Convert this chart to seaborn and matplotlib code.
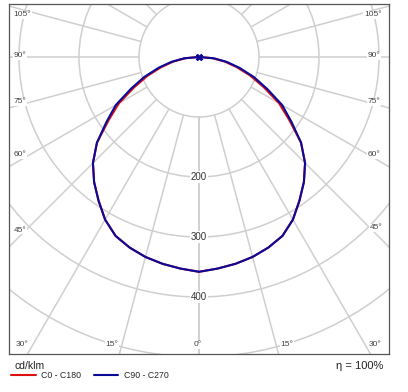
import matplotlib
matplotlib.use("Agg")
import matplotlib.pyplot as plt
from matplotlib.patches import Circle
import numpy as np
import pandas as pd
import seaborn as sns

# luminous intensity distribution, cd/klm, gamma measured from nadir
gamma = [0, 5, 10, 15, 20, 25, 30, 35, 40, 45, 50, 55, 60, 65, 70, 75, 80, 85, 90]
c0_c180 = [358, 354, 350, 345, 338, 329, 313, 292, 272, 250, 222, 184, 154, 119, 91, 65, 43, 22, 0]
c90_c270 = [358, 354, 350, 345, 338, 329, 313, 292, 272, 250, 222, 188, 160, 125, 97, 70, 47, 25, 0]
planes = {"C0 - C180": c0_c180, "C90 - C270": c90_c270}
colors = {"C0 - C180": "#e01010", "C90 - C270": "#0a0a9a"}

grid_radii = [100, 200, 300, 400, 500]
radius_labels = [200, 300, 400]
angle_steps = list(range(0, 181, 15))

# pixel layout of the original picture
W, H = 408, 392
CX, CY = 199, 57          # pole position in pixels
SCALE = 0.6               # px per cd/klm
BOX = (9, 4, 389, 354)    # left, top, right, bottom in px

angle_label_px = {
    "left": [(0, 198, 345), (15, 112, 345), (30, 22, 345), (45, 20, 230),
             (60, 20, 155), (75, 20, 102), (90, 20, 56), (105, 22, 15)],
    "right": [(15, 287, 345), (30, 375, 345), (45, 376, 228),
              (60, 374, 155), (75, 374, 102), (90, 374, 56), (105, 373, 15)],
}


def to_data(px, py):
    return (px - CX) / SCALE, (CY - py) / SCALE


rows = []
for name, vals in planes.items():
    g = np.radians(gamma)
    v = np.asarray(vals, dtype=float)
    # left half drawn from 90 deg down to nadir, then right half back up
    xs = np.concatenate([-(v * np.sin(g))[::-1], (v * np.sin(g))[1:]])
    ys = np.concatenate([-(v * np.cos(g))[::-1], -(v * np.cos(g))[1:]])
    for i, (x, y) in enumerate(zip(xs, ys)):
        rows.append({"plane": name, "order": i, "x": x, "y": y})
df = pd.DataFrame(rows)

sns.set_theme(style="white")
plt.rcParams["font.family"] = ["Liberation Sans", "DejaVu Sans"]

fig = plt.figure(figsize=(W / 100, H / 100), dpi=100)
ax = fig.add_axes([BOX[0] / W, 1 - BOX[3] / H,
                   (BOX[2] - BOX[0]) / W, (BOX[3] - BOX[1]) / H])

x0, y1 = to_data(BOX[0], BOX[1])
x1, y0 = to_data(BOX[2], BOX[3])
ax.set_xlim(x0, x1)
ax.set_ylim(y0, y1)
ax.set_xticks([])
ax.set_yticks([])
for sp in ax.spines.values():
    sp.set_color("#555555")
    sp.set_linewidth(0.9)

grid_kw = dict(color="#cfcfcf", lw=1.1, zorder=1)
for r in grid_radii:
    ax.add_patch(Circle((0, 0), r, fill=False, **grid_kw))
for a in angle_steps:
    t = np.radians(a)
    for s in (-1, 1):
        ax.plot([s * 100 * np.sin(t), s * 800 * np.sin(t)],
                [-100 * np.cos(t), -800 * np.cos(t)], **grid_kw)

sns.lineplot(data=df, x="x", y="y", hue="plane", palette=colors, sort=False,
             estimator=None, units="order" if False else None, lw=1.5, ax=ax, zorder=3)

ends = df[(df["plane"] == "C90 - C270") & (df["x"].abs() < 1e-6) & (df["y"].abs() < 1e-6)]
sns.scatterplot(data=ends, x="x", y="y", marker="X", s=28, color="#0a0a9a",
                linewidth=0, ax=ax, zorder=4, legend=False)

ax.set_xlabel("")
ax.set_ylabel("")

box_kw = dict(boxstyle="square,pad=0.1", fc="white", ec="none")
for r in radius_labels:
    ax.text(0, -r, str(r), ha="center", va="center", fontsize=7,
            color="#333333", bbox=box_kw, zorder=5)

for side in ("left", "right"):
    for a, px, py in angle_label_px[side]:
        x, y = to_data(px, py)
        ax.text(x, y, f"{a}°", ha="center", va="center", fontsize=6,
                color="#444444", bbox=box_kw, zorder=5)

sns.move_legend(ax, "center left", bbox_to_anchor=(11 / W, 1 - 376 / H),
                bbox_transform=fig.transFigure, ncol=2, frameon=False,
                title=None, fontsize=6.3, handlelength=2.8, handletextpad=0.6,
                columnspacing=1.5, borderpad=0, borderaxespad=0)

fig.text(14 / W, 1 - 366 / H, "cd/klm", ha="left", va="center",
         fontsize=7.5, color="#222222")
fig.text(383 / W, 1 - 366 / H, "η = 100%", ha="right", va="center",
         fontsize=8, color="#222222")

fig.savefig("out.png", dpi=100)
